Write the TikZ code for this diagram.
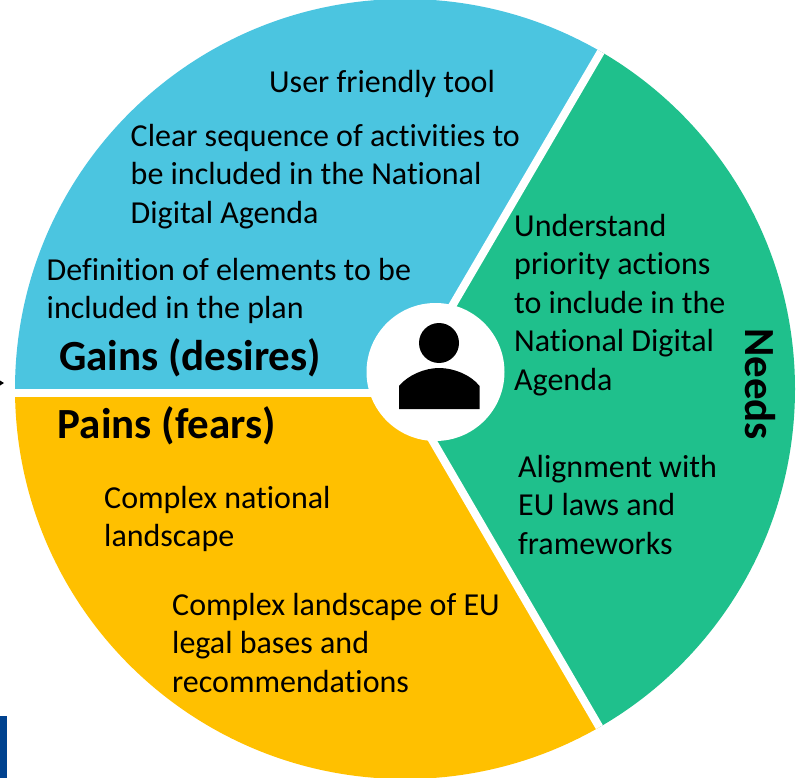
\documentclass[tikz,border=0pt]{standalone}
\usepackage{fontspec}
\setmainfont[Ligatures=CommonOff]{Carlito}
\definecolor{gainblue}{HTML}{4BC5E0}
\definecolor{needgreen}{HTML}{1FC08C}
\definecolor{painyellow}{HTML}{FFC000}
\definecolor{cornerblue}{HTML}{00428F}
\tikzset{
  body/.style={anchor=north west,align=left,inner sep=0pt,font=\fontsize{32}{38.5}\selectfont,text=black},
  head/.style={inner sep=0pt,font=\fontsize{43}{46}\selectfont\bfseries,text=black},
  gap/.style={draw=white,line width=8pt}
}
\begin{document}
\begin{tikzpicture}[x=1pt,y=-1pt]
\useasboundingbox (0,0) rectangle (798,778);
\coordinate (c) at (403,390);
\coordinate (h) at (403,393);
\coordinate (tr) at (637,-10);
\coordinate (br) at (636,790);
\begin{scope}
\clip (405,389) circle[radius=390];
\fill[gainblue] (c) -- (h) -- (0,393) -- (0,-10) -- (tr) -- cycle;
\fill[needgreen] (c) -- (tr) -- (810,-10) -- (810,790) -- (br) -- cycle;
\fill[painyellow] (c) -- (br) -- (0,790) -- (0,393) -- (h) -- cycle;
\draw[gap] (h) -- (0,393);
\draw[gap] (c) -- (tr);
\draw[gap] (c) -- (br);
\end{scope}
\fill[white] (435.5,372) circle[radius=69];
\fill[black] (439,343) circle[radius=20];
\fill[black] (399,409) -- (399,386) .. controls (408,375) and (425,368) .. (439,368) .. controls (454,368) and (471,375) .. (479.5,386) -- (479.5,409) -- cycle;
\fill[black] (0,380.5) -- (4,383) -- (0,385.5) -- cycle;
\fill[cornerblue] (0,716) rectangle (7,778);
\node[body] (t1) at (269,70) {User friendly tool};
\node[body] (t2) at (130.5,124) {Clear sequence of activities to\\be included in the National\\Digital Agenda};
\node[body] (t3) at (46.5,258) {Definition of elements to be\\included in the plan};
\node[head] (gains) at (190,358) {Gains (desires)};
\node[head] (pains) at (167,426) {Pains (fears)};
\node[body] (t4) at (104,486) {Complex national\\landscape};
\node[body] (t5) at (172,593) {Complex landscape of EU\\legal bases and\\recommendations};
\node[body] (t6) at (514,214) {Understand\\priority actions\\to include in the\\National Digital\\Agenda};
\node[body] (t7) at (518,455) {Alignment with\\EU laws and\\frameworks};
\node[head,rotate=-90] (needs) at (760,384) {Needs};
\end{tikzpicture}
\end{document}
